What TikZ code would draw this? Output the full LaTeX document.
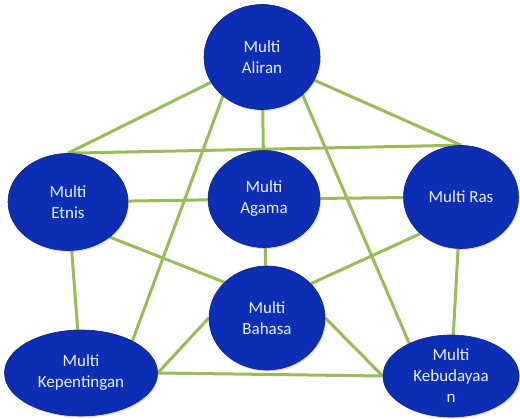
\documentclass[tikz,border=0pt]{standalone}
\usepackage{fontspec}
\setmainfont{Carlito}
\usepackage{tikz}
\usetikzlibrary{positioning,shadows,backgrounds,shapes.geometric}

\definecolor{bubblue}{RGB}{11,46,180}
\definecolor{bubedge}{RGB}{20,36,110}
\definecolor{bubtext}{RGB}{235,240,255}
\definecolor{linkgreen}{RGB}{155,187,89}

\begin{document}
\begin{tikzpicture}[x=1pt, y=-1pt,
    bub/.style={ellipse, draw=bubedge, line width=0.6pt, fill=bubblue, text=bubtext, inner sep=0pt, align=center,
        font=\fontsize{17}{21}\selectfont, drop shadow={opacity=0.3, shadow xshift=1pt, shadow yshift=-1.5pt}},
    link/.style={line width=3pt, color=linkgreen}]
        \useasboundingbox (0,0) rectangle (520,419);

        %% Ellipses
        \node[bub, minimum width=116pt, minimum height=105pt] (aliran) at (262,57) {Multi\\Aliran};
        \node[bub, minimum width=120pt, minimum height=97pt] (etnis) at (68,202) {Multi\\Etnis};
        \node[bub, minimum width=112pt, minimum height=97pt] (agama) at (264,199) {Multi\\Agama};
        \node[bub, minimum width=115pt, minimum height=103pt] (ras) at (461,197) {Multi Ras};
        \node[bub, minimum width=116pt, minimum height=104pt] (bahasa) at (267,318) {Multi\\Bahasa};
        \node[bub, minimum width=153pt, minimum height=86pt] (kepentingan) at (81,373) {Multi\\Kepentingan};
        \node[bub, minimum width=136pt, minimum height=82pt] (kebudayaan) at (451,376) {Multi\\Kebudayaa\\n};

        %% Connections
        \begin{scope}[on background layer]
        \draw[link] (aliran) -- (etnis.north);
        \draw[link] (aliran) -- (ras.north);
        \draw[link] (etnis.north) -- (ras.north);
        \draw[link] (aliran) -- (agama);
        \draw[link] (aliran.225) -- (kepentingan.32);
        \draw[link] (aliran.317) -- (kebudayaan.142);
        \draw[link] (etnis) -- (agama);
        \draw[link] (agama) -- (ras);
        \draw[link] (etnis.320) -- (bahasa.140);
        \draw[link] (ras.222) -- (bahasa.38);
        \draw[link] (agama) -- (bahasa);
        \draw[link] (etnis) -- (kepentingan);
        \draw[link] (ras) -- (kebudayaan);
        \draw[link] (kepentingan.east) -- (bahasa.west);
        \draw[link] (bahasa.east) -- (kebudayaan.west);
        \draw[link] (kepentingan.east) -- (kebudayaan.west);
        \end{scope}
\end{tikzpicture}
\end{document}
